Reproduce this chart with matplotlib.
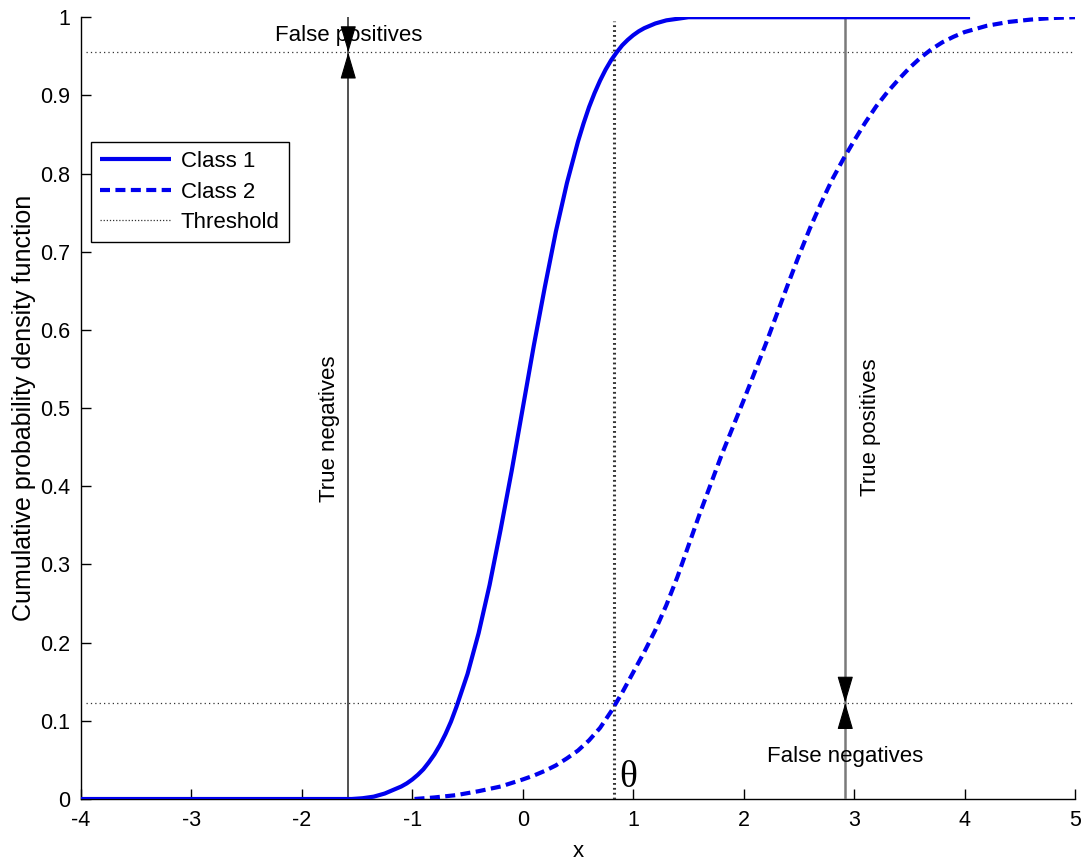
import matplotlib
matplotlib.use("Agg")
import matplotlib.pyplot as plt
from matplotlib.lines import Line2D

plt.rcParams['font.family'] = ['Liberation Sans', 'DejaVu Sans']

# ---- data ----
class1_x = [-4.0, -1.55, -1.45, -1.4, -1.35, -1.3, -1.25, -1.2, -1.15, -1.1, -1.05, -1.0,
            -0.95, -0.9, -0.85, -0.8, -0.75, -0.7, -0.65, -0.6, -0.5, -0.4,
            -0.3, -0.2, -0.1, 0.0, 0.1, 0.2, 0.3, 0.4, 0.5, 0.55, 0.6, 0.65, 0.7, 0.75,
            0.8, 0.85, 0.9, 0.95, 1.0, 1.05, 1.1, 1.15, 1.2, 1.25, 1.3, 1.35, 1.4, 1.5, 4.05]
class1_y = [0.0, 0.0, 0.001, 0.002, 0.003, 0.005, 0.007, 0.010, 0.013, 0.016, 0.020, 0.025,
            0.031, 0.038, 0.047, 0.057, 0.069, 0.083, 0.099, 0.118, 0.160, 0.212,
            0.274, 0.345, 0.420, 0.500, 0.580, 0.655, 0.726, 0.788, 0.841, 0.864, 0.885,
            0.903, 0.919, 0.933, 0.945, 0.955, 0.964, 0.971, 0.977, 0.982, 0.986, 0.989,
            0.992, 0.994, 0.996, 0.997, 0.998, 1.0, 1.0]

class2_x = [-0.98, -0.8, -0.6, -0.4, -0.2, 0.0, 0.1, 0.2, 0.3, 0.4, 0.5, 0.6, 0.7, 0.8,
            0.9, 1.0, 1.1, 1.2, 1.3, 1.4, 1.5, 1.6, 1.7, 1.8, 1.9, 2.0, 2.1, 2.2, 2.3, 2.4,
            2.5, 2.6, 2.7, 2.8, 2.9, 3.0, 3.1, 3.2, 3.3, 3.4, 3.5, 3.6, 3.7, 3.8, 3.9, 4.0,
            4.2, 4.4, 4.6, 4.8, 5.0]
class2_y = [0.0, 0.002, 0.005, 0.010, 0.016, 0.025, 0.030, 0.036, 0.043, 0.052, 0.062,
            0.075, 0.091, 0.112, 0.136, 0.162, 0.188, 0.216, 0.248, 0.284, 0.324, 0.364,
            0.402, 0.440, 0.475, 0.510, 0.546, 0.582, 0.620, 0.658, 0.695, 0.730, 0.762,
            0.792, 0.818, 0.842, 0.865, 0.886, 0.904, 0.920, 0.935, 0.948, 0.959, 0.968,
            0.975, 0.981, 0.989, 0.994, 0.997, 0.999, 1.0]

theta = 0.83            # threshold
fp_level = 0.955        # class 1 CDF at threshold
fn_level = 0.123        # class 2 CDF at threshold
tn_x = -1.58            # x of "true negatives" marker line
tp_x = 2.92             # x of "true positives" marker line

x_ticks = [-4, -3, -2, -1, 0, 1, 2, 3, 4, 5]
y_ticks = [0, 0.1, 0.2, 0.3, 0.4, 0.5, 0.6, 0.7, 0.8, 0.9, 1]
y_ticklabels = ['0', '0.1', '0.2', '0.3', '0.4', '0.5', '0.6', '0.7', '0.8', '0.9', '1']

# ---- figure ----
fig = plt.figure(figsize=(10.84, 8.61), dpi=100)
ax = fig.add_axes([0.0747, 0.072, 0.917, 0.908])

blue = '#0000ee'
l1, = ax.plot(class1_x, class1_y, color=blue, lw=3.0, solid_capstyle='butt', zorder=4)
l2, = ax.plot(class2_x, class2_y, color=blue, lw=3.0, ls=(0, (2.4, 1.3)), zorder=4)

# threshold lines
ax.plot([theta, theta], [0, 0.995], color='#333333', lw=2.2, ls=(0, (0.6, 1.0)), zorder=3)
ax.plot([-3.95, 5], [fp_level, fp_level], color='#333333', lw=0.9, ls=(0, (1, 2.5)), zorder=3)
ax.plot([-3.95, 5], [fn_level, fn_level], color='#333333', lw=0.9, ls=(0, (1, 2.5)), zorder=3)

# marker lines
ax.plot([tn_x, tn_x], [0, 1], color='#222222', lw=1.1, zorder=3)
ax.plot([tp_x, tp_x], [0, 1], color='#7a7a7a', lw=1.8, zorder=3)

def heads(x, y):
    for dy in (17, -17):
        ax.annotate('', xy=(x, y), xycoords='data', xytext=(0, dy), textcoords='offset points',
                    arrowprops=dict(arrowstyle='-|>,head_length=1.7,head_width=0.5',
                                    color='black', lw=0.8, shrinkA=0, shrinkB=0,
                                    mutation_scale=10), zorder=5)

heads(tn_x, fp_level)
heads(tp_x, fn_level)

fs = 16
ax.text(tn_x, 0.977, 'False positives', ha='center', va='center', fontsize=fs)
ax.text(tn_x - 0.17, 0.473, 'True negatives', ha='center', va='center', rotation=90, fontsize=fs)
ax.text(tp_x + 0.23, 0.476, 'True positives', ha='center', va='center', rotation=90, fontsize=fs)
ax.text(tp_x, 0.054, 'False negatives', ha='center', va='center', fontsize=fs)
ax.text(theta + 0.12, 0.027, '\u03b8', ha='center', va='center', fontsize=27,
        family=['Liberation Serif', 'DejaVu Serif'])

ax.set_xlim(-4, 5)
ax.set_ylim(0, 1)
ax.set_xticks(x_ticks)
ax.set_xticklabels([str(t) for t in x_ticks])
ax.set_yticks(y_ticks)
ax.set_yticklabels(y_ticklabels)
ax.tick_params(direction='in', length=7, width=1, labelsize=15.5, pad=8)
for s in ('top', 'right'):
    ax.spines[s].set_visible(False)
for s in ('left', 'bottom'):
    ax.spines[s].set_linewidth(1.0)
ax.set_xlabel('x', fontsize=fs, labelpad=7)
ax.set_ylabel('Cumulative probability density function', fontsize=18, labelpad=3)

thr_handle = Line2D([], [], color='#333333', lw=0.9, ls=(0, (1, 1.5)))
leg = ax.legend([l1, l2, thr_handle], ['Class 1', 'Class 2', 'Threshold'],
                loc='upper left', bbox_to_anchor=(0.01, 0.84), borderaxespad=0,
                fontsize=fs, handlelength=3.2, handletextpad=0.45, labelspacing=0.42,
                borderpad=0.4, fancybox=False, edgecolor='black', framealpha=1)
leg.get_frame().set_linewidth(1.0)

fig.savefig('out.png', dpi=100)
